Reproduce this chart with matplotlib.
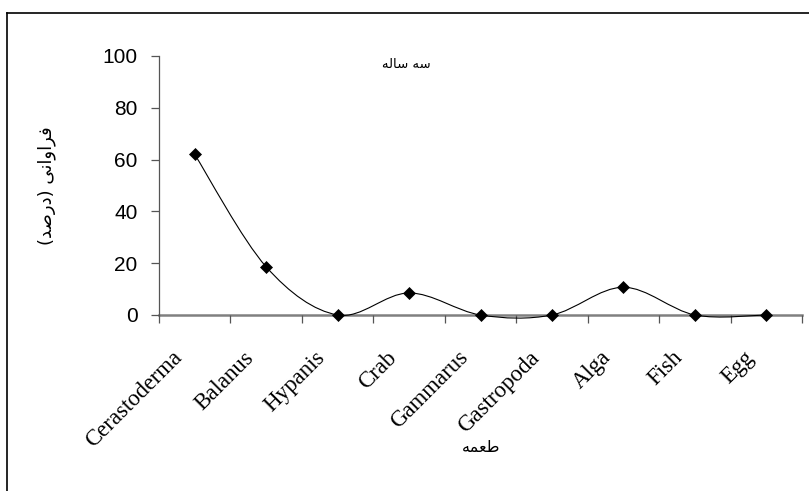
import numpy as np
import matplotlib
matplotlib.use("Agg")
import matplotlib.pyplot as plt
from matplotlib.path import Path
from matplotlib.patches import PathPatch
from matplotlib.lines import Line2D
from matplotlib.transforms import ScaledTranslation

# Prey items and their frequency of occurrence (%)
prey = ["Cerastoderma", "Balanus", "Hypanis", "Crab", "Gammarus",
        "Gastropoda", "Alga", "Fish", "Egg"]
frequency = [62.0, 18.6, 0.0, 8.5, 0.0, 0.0, 10.7, 0.0, 0.0]
y_ticks = [0, 20, 40, 60, 80, 100]

# Persian labels, written in visual order with contextual letter forms
title_text = "\uFEEA\uFEDF\uFE8E\uFEB3 \uFEEA\uFEB3"                      # سه ساله
ylabel_text = "(\uFEAA\uFEBB\uFEAD\uFEA9) \uFEF0\uFEE7\uFE8D\uFEED\uFE8D\uFEAE\uFED3"  # فراوانی (درصد)
xlabel_text = "\uFEEA\uFEE4\uFECC\uFEC3"                                  # طعمه

AR_FONT = ["DejaVu Sans"]

W, H = 809, 491
fig = plt.figure(figsize=(W / 100, H / 100), dpi=100)
fig.patch.set_facecolor("white")

ax = fig.add_axes([159 / W, 1 - 315 / H, (802 - 159) / W, (315 - 56) / H])
n = len(prey)
xc = np.arange(n) + 0.5
ax.set_xlim(0, n)
ax.set_ylim(0, 100)


def smooth_path(xs, ys):
    """Cubic Bezier curve through the points (Catmull-Rom style smoothing)."""
    pts = np.column_stack([xs, ys])
    ext = np.vstack([pts[0], pts, pts[-1]])
    verts = [pts[0]]
    codes = [Path.MOVETO]
    for i in range(len(pts) - 1):
        p0, p1, p2, p3 = ext[i], ext[i + 1], ext[i + 2], ext[i + 3]
        c1 = p1 + (p2 - p0) / 6.0
        c2 = p2 - (p3 - p1) / 6.0
        verts += [c1, c2, p2]
        codes += [Path.CURVE4] * 3
    return Path(verts, codes)


curve = PathPatch(smooth_path(xc, frequency), fill=False, edgecolor="black",
                  linewidth=0.8, clip_on=False, zorder=2)
ax.add_patch(curve)
ax.plot(xc, frequency, linestyle="none", marker="D", color="black",
        markersize=6.3, markeredgewidth=0.5, clip_on=False, zorder=3)

# Spines
for side in ("top", "right"):
    ax.spines[side].set_visible(False)
ax.spines["left"].set_color("#555555")
ax.spines["left"].set_linewidth(0.9)
ax.spines["bottom"].set_color("#808080")
ax.spines["bottom"].set_linewidth(1.8)
ax.spines["bottom"].set_zorder(1)

# Y axis
ax.set_yticks(y_ticks)
ax.set_yticklabels([str(v) for v in y_ticks], fontfamily="Liberation Sans",
                   fontsize=15)
ax.tick_params(axis="y", direction="out", length=5.5, width=0.9,
               color="#555555", pad=10)

# X axis: tick marks on category boundaries, labels at category centres
ax.set_xticks(np.arange(n + 1))
ax.set_xticklabels([])
ax.tick_params(axis="x", direction="out", length=5.5, width=0.9,
               color="#555555")
label_offset = ScaledTranslation(-0.08, -0.32, fig.dpi_scale_trans)
for xi, name in zip(xc, prey):
    ax.text(xi, 0, name, transform=ax.get_xaxis_transform() + label_offset,
            rotation=45, ha="right", va="top", fontfamily="Liberation Serif",
            fontsize=16.5, color="black")

# Titles
fig.text(406 / W, 1 - 64 / H, title_text, family=AR_FONT, fontsize=9.5,
         ha="center", va="center")
fig.text(47 / W, 1 - 186 / H, ylabel_text, family=AR_FONT, fontsize=13,
         rotation=90, ha="center", va="center")
fig.text(481 / W, 1 - 447 / H, xlabel_text, family=AR_FONT, fontsize=11.5,
         ha="center", va="center")

# Outer frame (left and top edges)
fx, fy = 7.5 / W, 1 - 12.5 / H
fig.add_artist(Line2D([fx, fx], [0, fy], transform=fig.transFigure,
                      color="black", linewidth=1.2))
fig.add_artist(Line2D([fx, 1], [fy, fy], transform=fig.transFigure,
                      color="black", linewidth=1.2))

fig.savefig("out.png", dpi=100)
